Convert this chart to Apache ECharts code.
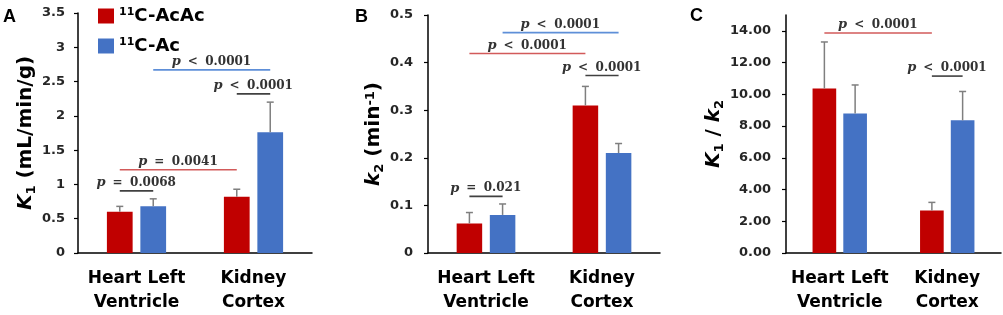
<!DOCTYPE html>
<html>
<head>
<meta charset="utf-8">
<script src="https://cdn.jsdelivr.net/npm/echarts@6/dist/echarts.min.js"></script>
<style>html,body{margin:0;padding:0;background:#fff}#c{width:1003px;height:315px}</style>
</head>
<body>
<div id="c"></div>
<script>
// ---- data ----
const categories = ['Heart Left\nVentricle', 'Kidney\nCortex'];
const seriesNames = ['11C-AcAc', '11C-Ac'];

// Panel A: K1 (mL/min/g)
const k1AcAc = [0.60, 0.82];
const k1AcAcErr = [0.08, 0.11];
const k1Ac = [0.68, 1.76];
const k1AcErr = [0.11, 0.44];
const ticksA = [0, 0.5, 1, 1.5, 2, 2.5, 3, 3.5];

// Panel B: k2 (min^-1)
const k2AcAc = [0.062, 0.31];
const k2AcAcErr = [0.023, 0.04];
const k2Ac = [0.080, 0.21];
const k2AcErr = [0.023, 0.02];
const ticksB = [0, 0.1, 0.2, 0.3, 0.4, 0.5];

// Panel C: K1/k2
const ratioAcAc = [10.37, 2.68];
const ratioAcAcErr = [2.93, 0.51];
const ratioAc = [8.79, 8.36];
const ratioAcErr = [1.80, 1.82];
const ticksC = [0, 2, 4, 6, 8, 10, 12, 14];

// significance brackets: [fromCategory, fromSeries, toCategory, toSeries, y]
const bracketsA = [[0, 0, 0, 1, 0.906], [0, 0, 1, 0, 1.215], [0, 1, 1, 1, 2.67], [1, 0, 1, 1, 2.32]];
const bracketLabelsA = ['p = 0.0068', 'p = 0.0041', 'p < 0.0001', 'p < 0.0001'];
const bracketColorsA = ['k', 'r', 'b', 'k'];
const bracketsB = [[0, 0, 0, 1, 0.119], [0, 0, 1, 0, 0.419], [0, 1, 1, 1, 0.463], [1, 0, 1, 1, 0.373]];
const bracketLabelsB = ['p = 0.021', 'p < 0.0001', 'p < 0.0001', 'p < 0.0001'];
const bracketColorsB = ['k', 'r', 'b', 'k'];
const bracketsC = [[0, 0, 1, 0, 13.87], [1, 0, 1, 1, 11.15]];
const bracketLabelsC = ['p < 0.0001', 'p < 0.0001'];
const bracketColorsC = ['r', 'k'];

// ---- styles ----
const RED = '#C00000', BLUE = '#4472C4';
const LINE_COL = { k: '#404040', r: '#D25A5A', b: '#5E8FD8' };
const BAR_W = 0.22, BAR_GAP = 0.30;
const OFF = BAR_W * (1 + BAR_GAP) / 2;
const FONT = 'DejaVu Sans';

const chart = echarts.init(document.getElementById('c'));

function errSeries(idx, vals, errs, s) {
  return {
    type: 'custom', xAxisIndex: idx, yAxisIndex: idx, z: 5, silent: true,
    data: vals.map((v, i) => [i, v, errs[i], s]),
    encode: { x: 0, y: 1 },
    renderItem: function (params, api) {
      const cat = api.value(0), v = api.value(1), e = api.value(2), si = api.value(3);
      const bw = api.size([1, 0])[0];
      const off = (si === 0 ? -1 : 1) * bw * OFF;
      const p0 = api.coord([cat, v]), p1 = api.coord([cat, v + e]);
      const x = p0[0] + off;
      const st = { stroke: '#7F7F7F', lineWidth: 1.5 };
      return { type: 'group', children: [
        { type: 'line', shape: { x1: x, y1: p0[1], x2: x, y2: p1[1] }, style: st },
        { type: 'line', shape: { x1: x - 3.5, y1: p1[1], x2: x + 3.5, y2: p1[1] }, style: st }
      ] };
    }
  };
}

function pLabel(t) {
  const m = t.match(/^p\s*([<=])\s*(.+)$/);
  return '{p|p}{op|' + m[1] + '}{n|' + m[2] + '}';
}
const pRich = {
  p: { fontFamily: 'DejaVu Serif', fontStyle: 'italic', fontWeight: 'bold', fontSize: 13, fill: '#333', width: 8 },
  op: { fontFamily: 'DejaVu Serif', fontWeight: 'bold', fontSize: 12, fill: '#333', width: 25, align: 'center' },
  n: { fontFamily: 'DejaVu Serif', fontWeight: 'bold', fontSize: 12, fill: '#333' }
};

function bracketSeries(idx, br, labels, cols) {
  return {
    type: 'custom', xAxisIndex: idx, yAxisIndex: idx, z: 6, silent: true,
    data: br.map(b => [b[0], b[4]]),
    encode: { x: 0, y: 1 },
    renderItem: function (params, api) {
      const b = br[params.dataIndex];
      const bw = api.size([1, 0])[0];
      const a = api.coord([b[0], b[4]]), c = api.coord([b[2], b[4]]);
      const x1 = a[0] + (b[1] === 0 ? -1 : 1) * bw * OFF;
      const x2 = c[0] + (b[3] === 0 ? -1 : 1) * bw * OFF;
      const y = a[1];
      return { type: 'group', children: [
        { type: 'line', shape: { x1: x1, y1: y, x2: x2, y2: y }, style: { stroke: LINE_COL[cols[params.dataIndex]], lineWidth: 1.6 } },
        { type: 'text', style: { text: pLabel(labels[params.dataIndex]), rich: pRich, x: (x1 + x2) / 2, y: y - 8, align: 'center', verticalAlign: 'middle' } }
      ] };
    }
  };
}

function barSeries(idx, vals, s) {
  return {
    type: 'bar', name: seriesNames[s], xAxisIndex: idx, yAxisIndex: idx,
    data: vals, barWidth: (BAR_W * 100) + '%', barGap: (BAR_GAP * 100) + '%',
    itemStyle: { color: s === 0 ? RED : BLUE }
  };
}

function xAxis(idx) {
  return {
    type: 'category', gridIndex: idx, data: categories,
    axisLine: { lineStyle: { color: '#000', width: 1.5 } },
    axisTick: { show: false },
    axisLabel: { fontFamily: FONT, fontWeight: 'bold', fontSize: 17, color: '#000', lineHeight: 24, margin: 14, interval: 0 }
  };
}

function yAxis(idx, max, interval, ticks, fmt, name, nameRich, nameGap, margin) {
  return {
    type: 'value', gridIndex: idx, min: 0, max: max, interval: interval,
    splitLine: { show: false },
    axisLine: { show: true, lineStyle: { color: '#000', width: 1.5 } },
    axisTick: { show: true, length: 4, customValues: ticks, lineStyle: { color: '#000', width: 1.2 } },
    axisLabel: { customValues: ticks, formatter: fmt, fontFamily: FONT, fontWeight: 'bold', fontSize: 13, color: '#262626', margin: margin },
    name: name, nameLocation: 'middle', nameGap: nameGap,
    nameTextStyle: { rich: nameRich }
  };
}

const nameBase = { fontFamily: FONT, fontWeight: 'bold', fontSize: 20, color: '#000' };
const richA = {
  i: Object.assign({}, nameBase, { fontStyle: 'italic' }),
  sub: Object.assign({}, nameBase, { fontSize: 13, verticalAlign: 'bottom', padding: [0, 0, -2, 0] }),
  t: nameBase
};
const letterStyle = { fontFamily: 'Liberation Sans', fontWeight: 'bold', fontSize: 18, color: '#000' };

const option = {
  animation: false,
  backgroundColor: '#fff',
  title: [
    { text: 'A', left: 3, top: 8, padding: 0, textStyle: letterStyle },
    { text: 'B', left: 355, top: 8, padding: 0, textStyle: letterStyle },
    { text: 'C', left: 690, top: 7, padding: 0, textStyle: letterStyle }
  ],
  legend: {
    data: seriesNames, orient: 'vertical', left: 98, top: 7, padding: 0,
    itemWidth: 16, itemHeight: 15, itemGap: 12, icon: 'rect',
    formatter: n => n.replace(/^(\d+)(.*)$/, '{sup|$1}{t|$2}'),
    textStyle: {
      rich: {
        sup: { fontFamily: FONT, fontWeight: 'bold', fontSize: 11, color: '#000', verticalAlign: 'top', padding: [0, 0, 6, 0] },
        t: { fontFamily: FONT, fontWeight: 'bold', fontSize: 18, color: '#000' }
      }
    }
  },
  grid: [
    { left: 78, top: 13, width: 234, height: 241.5 },
    { left: 428, top: 15, width: 232, height: 240.3 },
    { left: 786, top: 15, width: 215, height: 241.5 }
  ],
  xAxis: [xAxis(0), xAxis(1), xAxis(2)],
  yAxis: [
    yAxis(0, 3.5, 0.5, ticksA, v => String(+v.toFixed(1)), '{i|K}{sub|1}{t| (mL/min/g)}', richA, 42, 13),
    yAxis(1, 0.5, 0.1, ticksB, v => (v === 0 ? '0' : v.toFixed(1)), '{i|k}{sub|2}{t| (min}{sup|-1}{t|)}',
      Object.assign({}, richA, { sup: Object.assign({}, nameBase, { fontSize: 13, verticalAlign: 'top' }) }), 44, 15),
    yAxis(2, 15, 2, ticksC, v => v.toFixed(2), '{i|K}{sub|1}{t| / }{i|k}{sub|2}', richA, 62, 15)
  ],
  series: [
    barSeries(0, k1AcAc, 0), barSeries(0, k1Ac, 1),
    errSeries(0, k1AcAc, k1AcAcErr, 0), errSeries(0, k1Ac, k1AcErr, 1),
    bracketSeries(0, bracketsA, bracketLabelsA, bracketColorsA),
    barSeries(1, k2AcAc, 0), barSeries(1, k2Ac, 1),
    errSeries(1, k2AcAc, k2AcAcErr, 0), errSeries(1, k2Ac, k2AcErr, 1),
    bracketSeries(1, bracketsB, bracketLabelsB, bracketColorsB),
    barSeries(2, ratioAcAc, 0), barSeries(2, ratioAc, 1),
    errSeries(2, ratioAcAc, ratioAcAcErr, 0), errSeries(2, ratioAc, ratioAcErr, 1),
    bracketSeries(2, bracketsC, bracketLabelsC, bracketColorsC)
  ]
};
chart.setOption(option);
</script>
</body>
</html>
